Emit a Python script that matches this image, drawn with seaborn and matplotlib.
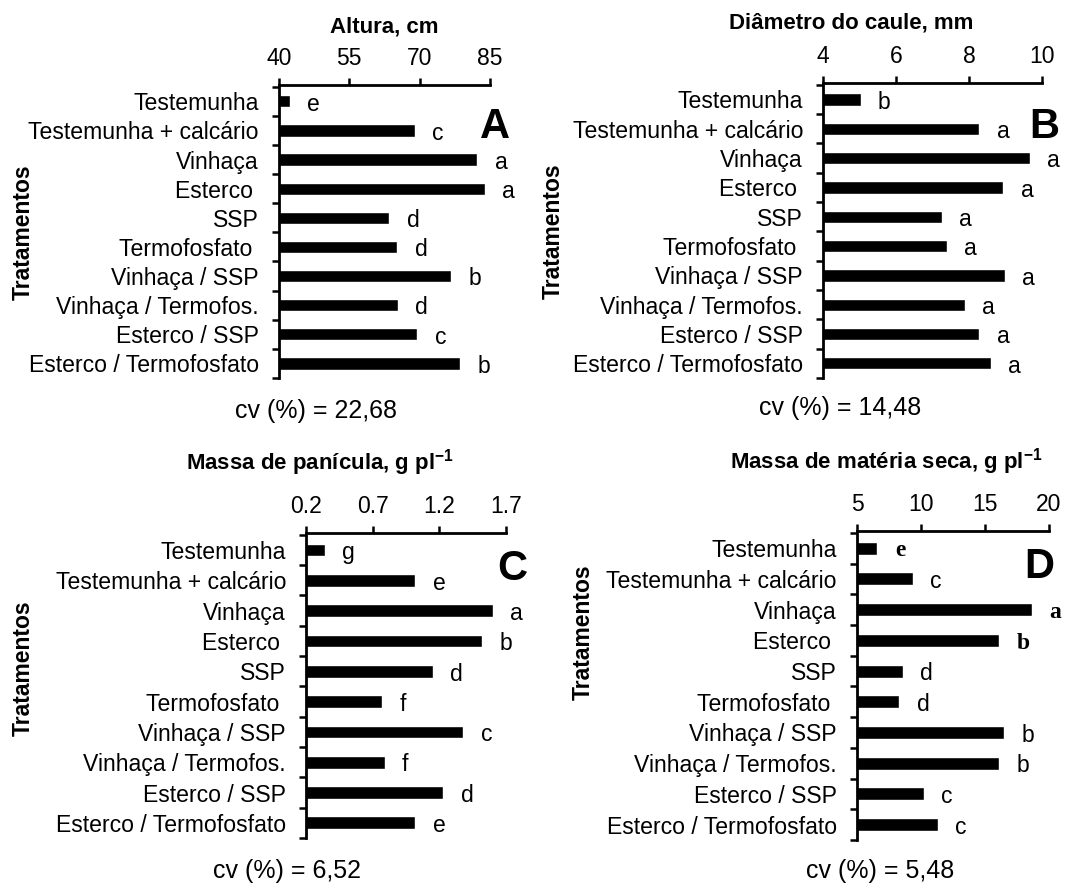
import matplotlib
matplotlib.use('Agg')
import matplotlib.pyplot as plt
from matplotlib.ticker import FixedLocator
import numpy as np
import pandas as pd
import seaborn as sns

sns.set_theme(style='white')
plt.rcParams['font.family'] = ['Liberation Sans', 'DejaVu Sans']
plt.rcParams['mathtext.fontset'] = 'custom'
plt.rcParams['mathtext.rm'] = 'Liberation Sans'
plt.rcParams['mathtext.bf'] = 'Liberation Sans:bold'

# ---------------- data ----------------
categories = ['Testemunha', 'Testemunha + calcário', 'Vinhaça', 'Esterco ', 'SSP',
              'Termofosfato ', 'Vinhaça / SSP', 'Vinhaça / Termofos.', 'Esterco / SSP',
              'Esterco / Termofosfato']

altura = [42.3, 69.0, 82.3, 83.9, 63.5, 65.2, 76.7, 65.4, 69.5, 78.6]
altura_letters = ['e', 'c', 'a', 'a', 'd', 'd', 'b', 'd', 'c', 'b']

diametro = [5.03, 8.28, 9.66, 8.94, 7.25, 7.40, 8.98, 7.88, 8.28, 8.59]
diametro_letters = ['b', 'a', 'a', 'a', 'a', 'a', 'a', 'a', 'a', 'a']

panicula = [0.34, 1.02, 1.60, 1.52, 1.15, 0.77, 1.38, 0.79, 1.23, 1.02]
panicula_letters = ['g', 'e', 'a', 'b', 'd', 'f', 'c', 'f', 'd', 'e']

materia = [6.6, 9.37, 18.7, 16.1, 8.6, 8.3, 16.5, 16.1, 10.2, 11.3]
materia_letters = ['e', 'c', 'a', 'b', 'd', 'd', 'b', 'b', 'c', 'c']

titles = ['Altura, cm', 'Diâmetro do caule, mm',
          r'Massa de panícula, g pl$^{\mathbf{-1}}$',
          r'Massa de matéria seca, g pl$^{\mathbf{-1}}$']
xticks_all = [[40, 55, 70, 85], [4, 6, 8, 10], [0.2, 0.7, 1.2, 1.7], [5, 10, 15, 20]]
xticklabels_all = [['40', '55', '70', '85'], ['4', '6', '8', '10'],
                   ['0.2', '0.7', '1.2', '1.7'], ['5', '10', '15', '20']]
cv_labels = ['cv (%) = 22,68', 'cv (%) = 14,48', 'cv (%) = 6,52', 'cv (%) = 5,48']
panel_letters = ['A', 'B', 'C', 'D']
ylabel = 'Tratamentos'

values_all = [altura, diametro, panicula, materia]
letters_all = [altura_letters, diametro_letters, panicula_letters, materia_letters]
# serif-bold significance letters in panel D (as in the original)
serif_flags = [[False] * 10, [False] * 10, [False] * 10,
               [True, False, True, True, False, False, False, False, False, False]]

# ---------------- layout (pixels) ----------------
W, H = 1067, 883
layout = [
    dict(ax=(279, 85, 490, 378), title=(384, 33), letter=(510, 138), ylab=(23, 232), cv=(316, 411)),
    dict(ax=(823, 83, 1042, 378), title=(851, 28), letter=(1059, 138), ylab=(553, 231), cv=(840, 408)),
    dict(ax=(306, 533, 506, 838), title=(320, 470), letter=(527, 580), ylab=(23, 668), cv=(287, 871)),
    dict(ax=(857, 531, 1049, 840), title=(886, 469), letter=(1054, 578), ylab=(583, 632), cv=(880, 871)),
]

fig = plt.figure(figsize=(W / 100, H / 100), dpi=100)
fig.patch.set_facecolor('white')

def fx(px):
    return px / W

def fy(py):
    return 1 - py / H

for i in range(4):
    L = layout[i]
    l, t, r, b = L['ax']
    ax = fig.add_axes([fx(l), fy(b), (r - l) / W, (b - t) / H])
    df = pd.DataFrame({'trat': categories, 'val': values_all[i]})
    sns.barplot(data=df, x='val', y='trat', orient='h', color='black', saturation=1,
                width=0.42, ax=ax, errorbar=None)
    ax.set_facecolor('white')
    xt = xticks_all[i]
    ax.set_xlim(xt[0], xt[-1])
    ax.set_ylim(9.5, -0.56)
    ax.xaxis.tick_top()
    ax.set_xticks(xt)
    ax.set_xticklabels(xticklabels_all[i])
    ax.tick_params(axis='x', which='major', direction='out', length=5, width=1.8,
                   pad=6, labelsize=16.5, colors='black', top=True, bottom=False)
    ax.tick_params(axis='y', which='major', length=0, pad=14.4, labelsize=16.6,
                   labelcolor='black')
    ax.yaxis.set_minor_locator(FixedLocator(np.arange(-0.5, 10, 1)))
    ax.tick_params(axis='y', which='minor', direction='out', length=5, width=1.8,
                   color='black', left=True)
    ax.set_xlabel('')
    ax.set_ylabel('')
    for s in ['right', 'bottom']:
        ax.spines[s].set_visible(False)
    for s in ['top', 'left']:
        ax.spines[s].set_visible(True)
        ax.spines[s].set_color('black')
        ax.spines[s].set_linewidth(2)
    ax.grid(False)

    # significance letters
    for j, (v, let) in enumerate(zip(values_all[i], letters_all[i])):
        if serif_flags[i][j]:
            ax.annotate(let, (v, j), xytext=(12.5, -2), textcoords='offset points',
                        ha='left', va='center', fontsize=17, fontweight='bold',
                        family='Liberation Serif', color='black')
        else:
            ax.annotate(let, (v, j), xytext=(12.5, -2), textcoords='offset points',
                        ha='left', va='center', fontsize=16.5, color='black')

    # titles, panel letters, y label, cv
    fig.text(fx(L['title'][0]), fy(L['title'][1]), titles[i], ha='center', va='baseline',
             fontsize=16, fontweight='bold', color='black')
    fig.text(fx(L['letter'][0]), fy(L['letter'][1]), panel_letters[i], ha='right',
             va='baseline', fontsize=30, fontweight='bold', color='black')
    fig.text(fx(L['ylab'][0]), fy(L['ylab'][1]), ylabel, ha='center', va='center',
             rotation=90, fontsize=16.5, fontweight='bold', color='black')
    fig.text(fx(L['cv'][0]), fy(L['cv'][1]), cv_labels[i], ha='center', va='center',
             fontsize=18, color='black')

fig.savefig('out.png', dpi=100, facecolor='white')
